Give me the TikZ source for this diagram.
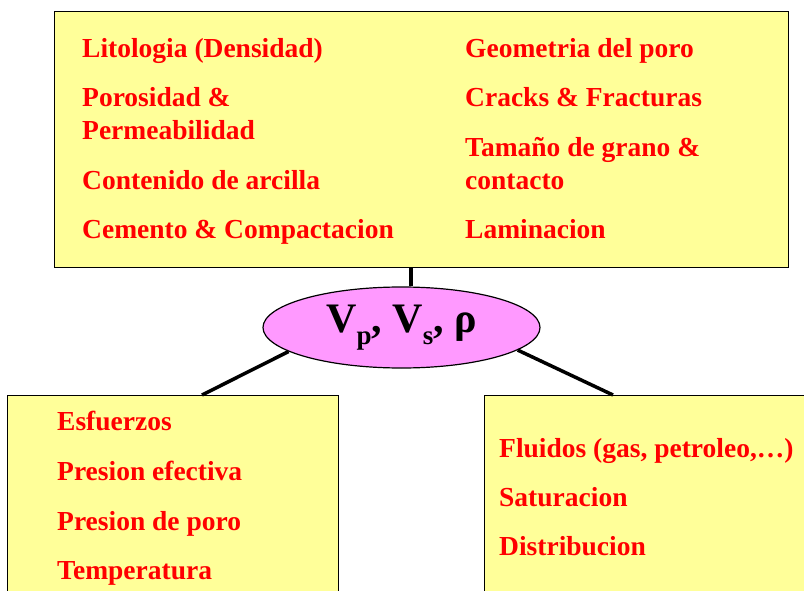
\documentclass[tikz,border=0pt]{standalone}
\usepackage{fontspec}
\setmainfont{Liberation Serif}
\usetikzlibrary{shapes.geometric}
\definecolor{boxyellow}{HTML}{FFFF99}
\definecolor{elpink}{HTML}{FF99FF}
\definecolor{txtred}{HTML}{FF0000}
\tikzset{
  panel/.style={draw=black, line width=1.2pt, fill=boxyellow, anchor=north west, inner sep=0pt},
  item/.style={anchor=base west, inner sep=0pt, text=txtred, font=\fontsize{27.5}{31}\selectfont\bfseries},
  conn/.style={draw=black, line width=3.5pt},
}
\begin{document}
\begin{tikzpicture}[x=1pt,y=-1pt]
\useasboundingbox (0,0) rectangle (804,591);
\clip (0,0) rectangle (804,591);
% boxes
\node[panel, minimum width=734pt, minimum height=256pt] (top) at (54,11) {};
\node[panel, minimum width=331pt, minimum height=240pt] (lb) at (7,395) {};
\node[panel, minimum width=360pt, minimum height=240pt] (rb) at (484,395) {};
% ellipse
\node[ellipse, draw=black, line width=1.2pt, fill=elpink, minimum width=277pt, minimum height=81pt, inner sep=0pt,
      font=\fontsize{42}{45}\selectfont\bfseries] (el) at (401.5,327.5)
  {V\raisebox{-0.28em}{\fontsize{27}{30}\selectfont p}, V\raisebox{-0.28em}{\fontsize{27}{30}\selectfont s}, ρ};
% connectors
\coordinate (ltop) at (202,395);
\coordinate (rtop) at (613,395);
\draw[conn] (top.south -| el.77) -- (el.77);
\draw[conn] (el.192) -- (ltop);
\draw[conn] (el.349) -- (rtop);
% top box text
\node[item] (t1) at (82,58) {Litologia (Densidad)};
\node[item] (t2) at (82,107) {Porosidad \&};
\node[item] (t3) at (82,140) {Permeabilidad};
\node[item] (t4) at (82,190) {Contenido de arcilla};
\node[item] (t5) at (82,239) {Cemento \& Compactacion};
\node[item] (t6) at (465,58) {Geometria del poro};
\node[item] (t7) at (465,107) {Cracks \& Fracturas};
\node[item] (t8) at (465,157) {Tamaño de grano \&};
\node[item] (t9) at (465,190) {contacto};
\node[item] (t10) at (465,239) {Laminacion};
% left bottom
\node[item] (l1) at (57,430) {Esfuerzos};
\node[item] (l2) at (57,480) {Presion efectiva};
\node[item] (l3) at (57,530) {Presion de poro};
\node[item] (l4) at (57,579) {Temperatura};
% right bottom
\node[item] (r1) at (499,457) {Fluidos (gas, petroleo,…)};
\node[item] (r2) at (499,506) {Saturacion};
\node[item] (r3) at (499,555) {Distribucion};
\end{tikzpicture}
\end{document}
